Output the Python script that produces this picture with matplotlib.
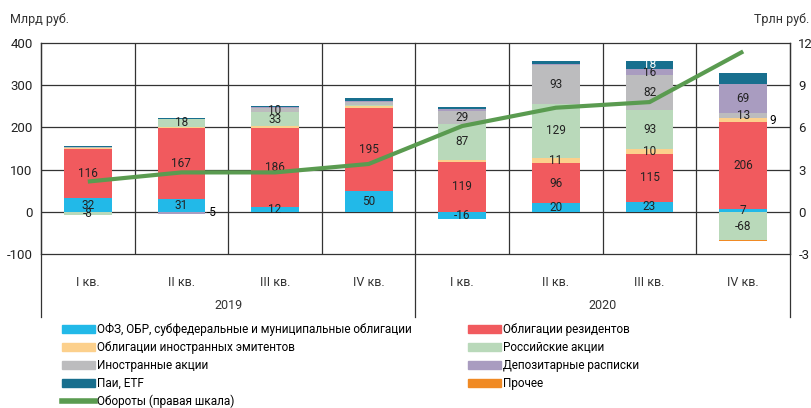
# -*- coding: utf-8 -*-
import matplotlib.pyplot as plt
from matplotlib.patches import Patch
from matplotlib.lines import Line2D
import numpy as np

plt.rcParams['font.family'] = ['Roboto', 'DejaVu Sans']
plt.rcParams['axes.unicode_minus'] = False

# данные, млрд руб. (оборот - трлн руб.)
quarters = ['I кв.', 'II кв.', 'III кв.', 'IV кв.', 'I кв.', 'II кв.', 'III кв.', 'IV кв.']
years = ['2019', '2020']

ofz = [32, 31, 12, 50, -16, 20, 23, 7]
resid = [116, 167, 186, 195, 119, 96, 115, 206]
foreign_bonds = [3, 4, 5, 6, 3, 11, 10, 9]
rus_shares = [-8, 18, 33, 3, 87, 129, 93, -68]
foreign_shares = [2, 1, 10, 6, 29, 93, 82, 13]
dep_receipts = [1, -5, 2, 3, 5, 2, 16, 69]
etf = [3, 1, 2, 6, 5, 6, 18, 24]
other = [0, 0, 0, 0, 0, 0, 0, -2]
turnover = [2.15, 2.8, 2.8, 3.4, 6.1, 7.4, 7.8, 11.4]

series = [
    ('ОФЗ, ОБР, субфедеральные и муниципальные облигации', ofz, '#22b9e8'),
    ('Облигации резидентов', resid, '#f15a5e'),
    ('Облигации иностранных эмитентов', foreign_bonds, '#fcd08c'),
    ('Российские акции', rus_shares, '#b9d9ba'),
    ('Иностранные акции', foreign_shares, '#bcbcbe'),
    ('Депозитарные расписки', dep_receipts, '#a99cc0'),
    ('Паи, ETF', etf, '#186f8e'),
    ('Прочее', other, '#f08a24'),
]
# подписи справа от столбца и сегменты без подписи: (индекс ряда, квартал)
outside = [(5, 1), (2, 7)]
hidden = [(6, 7)]

fig = plt.figure(figsize=(8.12, 4.08), dpi=100)
ax = fig.add_axes([41 / 812, 1 - 254 / 408, 749 / 812, 211 / 408])

x = np.arange(len(quarters))
w = 0.51
pos_bottom = np.zeros(len(x))
neg_bottom = np.zeros(len(x))
for si, (name, vals, color) in enumerate(series):
    vals = np.array(vals, dtype=float)
    bottom = np.where(vals >= 0, pos_bottom, neg_bottom)
    ax.bar(x, vals, w, bottom=bottom, color=color, zorder=2)
    for i, v in enumerate(vals):
        if (si, i) in outside:
            ax.text(x[i] + w / 2 + 0.02, bottom[i] + v / 2, f'{int(v)}',
                    ha='left', va='center', fontsize=8.5, zorder=5)
        elif abs(v) >= 7 and (si, i) not in hidden:
            tc = 'white' if si == 6 else '#222222'
            ax.text(x[i], bottom[i] + v / 2, f'{int(v)}', ha='center',
                    va='center', fontsize=8.5, color=tc, zorder=5)
    pos_bottom = np.where(vals >= 0, pos_bottom + vals, pos_bottom)
    neg_bottom = np.where(vals < 0, neg_bottom + vals, neg_bottom)

# сетка
lc = '#333333'
ax.set_xlim(-0.5, 7.5)
ax.set_ylim(-100, 400)
ax.set_yticks([-100, 0, 100, 200, 300, 400])
for yv in [0, 100, 200, 300]:
    ax.axhline(yv, color=lc, lw=0.9, zorder=1)
for xv in [0.5, 1.5, 2.5, 4.5, 5.5, 6.5]:
    ax.axvline(xv, color=lc, lw=0.9, zorder=1)
for xv in [-0.5, 3.5, 7.5]:
    ax.plot([xv, xv], [-0.3, 1], color=lc, lw=0.9, clip_on=False,
            transform=ax.get_xaxis_transform(), zorder=1)
for sp in ax.spines.values():
    sp.set_color(lc)
    sp.set_linewidth(0.9)

ax.set_xticks(x)
ax.set_xticklabels(quarters, fontsize=9, color='#333333')
ax.tick_params(axis='x', length=0, pad=16)
ax.tick_params(axis='y', length=0, pad=6, labelsize=9.5, labelcolor='#222222')
for k, yr in enumerate(years):
    ax.text(1.5 + 4 * k, -0.245, yr, transform=ax.get_xaxis_transform(),
            ha='center', va='center', fontsize=9, color='#333333')

# линия оборотов на правой шкале
ax2 = ax.twinx()
ax2.plot(x, turnover, color='#5a9b50', lw=3, solid_capstyle='butt', zorder=6)
ax2.set_ylim(-3, 12)
ax2.set_yticks([-3, 0, 3, 6, 9, 12])
ax2.tick_params(axis='y', length=0, pad=6, labelsize=9.5, labelcolor='#222222')
for sp in ax2.spines.values():
    sp.set_visible(False)

fig.text(10 / 812, 1 - 20 / 408, 'Млрд руб.', fontsize=9, va='center', color='#333333')
fig.text(809 / 812, 1 - 20 / 408, 'Трлн руб.', fontsize=9, va='center', ha='right',
         color='#333333')

# легенда
h1 = [Patch(color=series[i][2], label=series[i][0]) for i in [0, 2, 4, 6]]
h1.append(Line2D([], [], color='#5a9b50', lw=4, label='Обороты (правая шкала)'))
h2 = [Patch(color=series[i][2], label=series[i][0]) for i in [1, 3, 5, 7]]
kw = dict(frameon=False, fontsize=8.5, handlelength=2.8, handleheight=0.7,
          handletextpad=0.2, labelspacing=0.42, borderpad=0, borderaxespad=0)
fig.legend(handles=h1, loc='upper left', bbox_to_anchor=(62 / 812, 1 - 323 / 408), **kw)
fig.legend(handles=h2, loc='upper left', bbox_to_anchor=(468 / 812, 1 - 323 / 408), **kw)

fig.savefig('out.png', dpi=100)
